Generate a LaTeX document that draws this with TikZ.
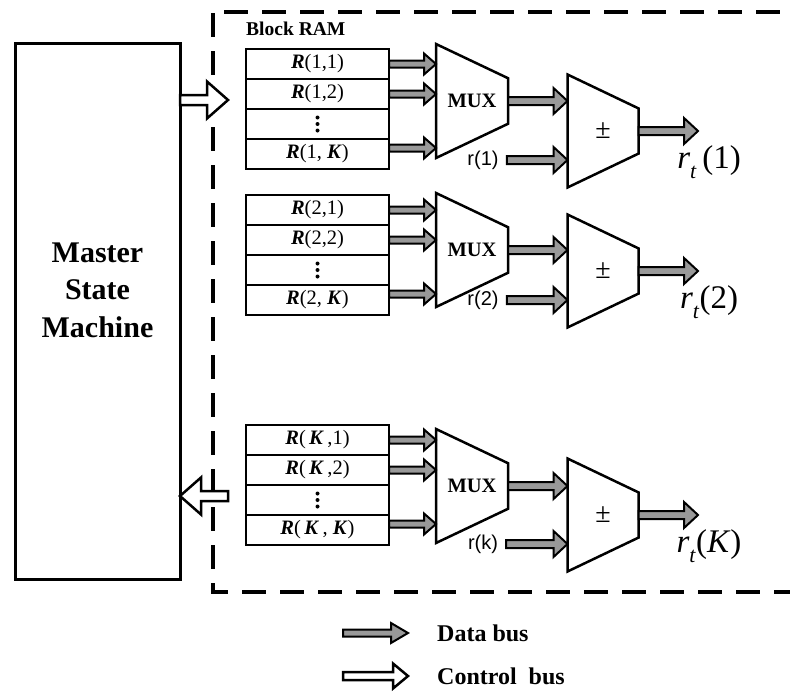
\documentclass[tikz,border=0pt]{standalone}
\usepackage{fontspec}
\setmainfont{Liberation Serif}
\newfontfamily\arialfont{Liberation Sans}
\usetikzlibrary{calc,positioning}
\definecolor{busgray}{gray}{0.6}

\newcommand{\bi}[1]{\textbf{\textit{#1}}}
\newcommand{\rtsub}{\textit{r}\raisebox{-0.3em}{\fontsize{22}{22}\selectfont\textit{t}}}
% bus arrow: style, from, to, shaft half width, head half width, head length
\newcommand{\busarrow}[6]{%
  \draw[#1] let \p1=(#2), \p2=(#3), \n1={ifthenelse(\x2>\x1,1,-1)} in
    (\x1,\y1+#4) -- ({\x2-(\n1)*#6},\y1+#4) -- ({\x2-(\n1)*#6},\y1+#5) -- (\x2,\y1)
    -- ({\x2-(\n1)*#6},\y1-#5) -- ({\x2-(\n1)*#6},\y1-#4) -- (\x1,\y1-#4) -- cycle;}
\newcommand{\dbus}[2]{\busarrow{databus}{#1}{#2}{3.5pt}{10.5pt}{12pt}}
\newcommand{\obus}[2]{\busarrow{databus}{#1}{#2}{4pt}{13pt}{14pt}}
\newcommand{\cbus}[2]{\busarrow{ctrlbus}{#1}{#2}{5pt}{18.5pt}{21pt}}
% trapezoid round a node
\newcommand{\trapez}[1]{\draw[unit] (#1.north west) -- ($(#1.north east)!0.3!(#1.south east)$)
  -- ($(#1.south east)!0.3!(#1.north east)$) -- (#1.south west) -- cycle;}

\begin{document}
\begin{tikzpicture}[x=1pt, y=-1pt, line join=miter,
  ramrow/.style={draw, line width=2.5pt, minimum width=143pt, minimum height=30pt,
    inner sep=0pt, outer sep=0pt, font=\fontsize{20.5}{24}\selectfont},
  muxbox/.style={minimum width=72pt, minimum height=114pt, inner sep=0pt, outer sep=0pt,
    font=\bfseries\fontsize{20.5}{24}\selectfont},
  pmbox/.style={minimum width=71pt, minimum height=113pt, inner sep=0pt, outer sep=0pt,
    font=\fontsize{28}{30}\selectfont},
  unit/.style={line width=2.5pt},
  databus/.style={draw, fill=busgray, line width=2pt},
  ctrlbus/.style={draw, fill=white, line width=2.5pt},
  rlabel/.style={font=\arialfont\fontsize{20}{24}\selectfont, inner ysep=0pt, inner xsep=8pt},
  ramframe/.style={line width=3.5pt, dash pattern=on 24pt off 14pt},
  legend/.style={font=\bfseries\fontsize{24}{28}\selectfont, anchor=west, inner sep=0pt}]
\useasboundingbox (0,0) rectangle (790,696);
% master state machine
\node[draw, line width=3pt, minimum width=165pt, minimum height=536pt, outer sep=0pt] (msm) at (97.5,311) {};
\node[font=\bfseries\fontsize{30}{37.5}\selectfont, align=center] (msmtext) at (97.5,290) {Master\\State\\Machine};
% block ram frame
\draw[ramframe] (224,12) -- (790,12);
\draw[ramframe] (213,13) -- (213,592) -- (790,592);
\foreach \i/\k/\ty/\my/\py/\rr/\ot in {1/1/64/101/131/1/{\,(1)}, 2/2/210/250/271/2/(2),
    K/{\,\bi{K}\,}/440/486/515/k/(\textit{K})}{
  \node[ramrow] (r\i1) at (317.5,\ty) {\bi{R}(\k,1)};
  \node[ramrow, below=0pt of r\i1] (r\i2) {\bi{R}(\k,2)};
  \node[ramrow, below=0pt of r\i2] (r\i3) {};
  \foreach \d in {-6.5,0,6.5}
    \fill (r\i3.center) ++(0,\d) circle (2pt);
  \node[ramrow, below=0pt of r\i3] (r\i4) {\bi{R}(\k, \bi{K})};
  \node[muxbox] (mux\i) at (472,\my) {MUX};
  \trapez{mux\i}
  \node[pmbox] (pm\i) at (603,\py) {±};
  \trapez{pm\i}
  \node[rlabel] (rin\i) at (483,\py+29) {r(\rr)};
  \coordinate (out\i) at (698,\py);
  \node[font=\fontsize{33}{36}\selectfont] (rt\i) at (709,\py+31) {\rtsub\ot};
  \dbus{r\i1.east}{mux\i.west}
  \dbus{r\i2.east}{mux\i.west}
  \dbus{[yshift=6pt]r\i4.east}{mux\i.west}
  \obus{mux\i.east}{pm\i.west}
  \obus{rin\i.east}{pm\i.west}
  \obus{pm\i.east}{out\i}
}
\node[font=\bfseries\fontsize{19.5}{22}\selectfont, anchor=south west, inner sep=0pt] (bram)
  at ([yshift=13pt]r11.north west) {Block RAM};
% control buses
\coordinate (cin) at (228,100);
\coordinate (cout) at (228,496);
\cbus{msm.east |- cin}{cin}
\cbus{cout}{msm.east}
% legend
\node[legend] (lgdtext) at (437,633) {Data bus};
\node[legend] (lgctext) at (437,676) {Control\ \ bus};
\coordinate (lgd) at (343,633);
\coordinate (lgc) at (343,676);
\busarrow{databus}{lgd}{[xshift=-29pt]lgdtext.west}{3.5pt}{10pt}{17pt}
\busarrow{ctrlbus}{lgc}{[xshift=-29pt]lgctext.west}{4pt}{12.5pt}{15pt}
\end{tikzpicture}
\end{document}
